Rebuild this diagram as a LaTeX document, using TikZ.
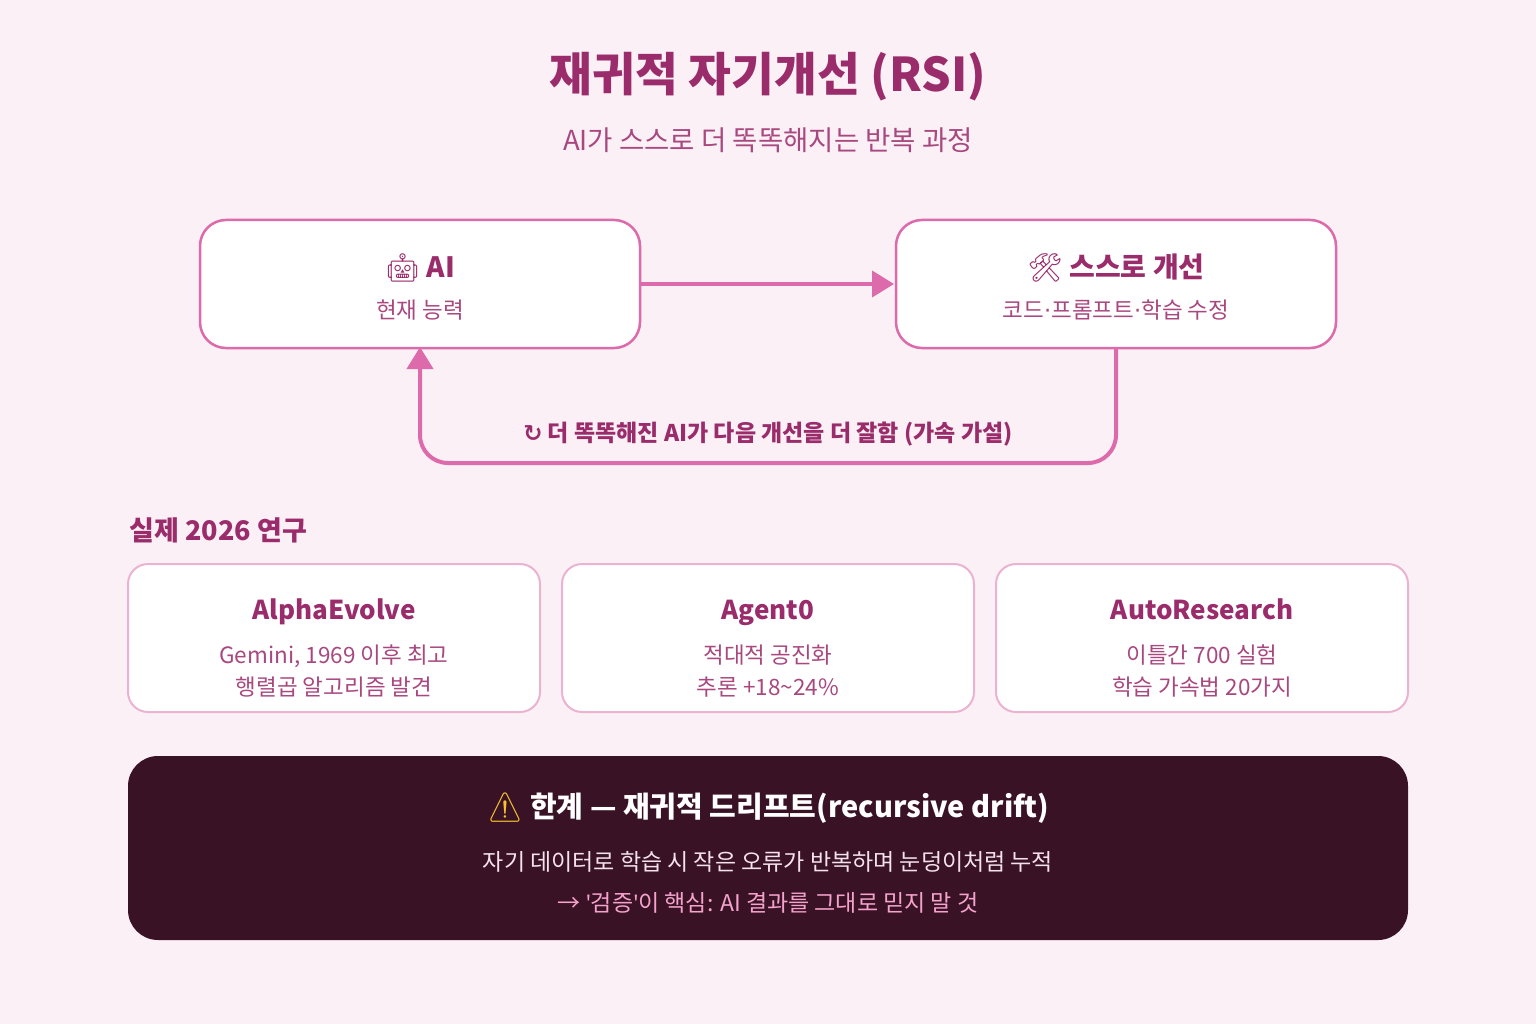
\documentclass[tikz,border=0pt]{standalone}
\usepackage{fontspec}
\setmainfont{Noto Sans CJK KR}
\newfontfamily\emo{Noto Emoji}
\newfontfamily\djv{DejaVu Sans}
\newfontfamily\nsans{Noto Sans}
\usetikzlibrary{arrows.meta}
\definecolor{bg}{HTML}{FBF0F5}
\definecolor{ttl}{HTML}{9B2C6B}
\definecolor{sub}{HTML}{A8487F}
\definecolor{edge}{HTML}{DD6AAA}
\definecolor{ledge}{HTML}{EBB3D1}
\definecolor{dark}{HTML}{3A1226}
\definecolor{lt}{HTML}{F4E2EC}
\definecolor{pk}{HTML}{F5A3CC}
\definecolor{warn}{HTML}{F7C52B}
\newcommand{\md}{{\djv\char"00B7}}
\newcommand{\sq}{{\nsans\char"0027}}
\begin{document}
\begin{tikzpicture}[x=1pt,y=-1pt,
  bigbox/.style={draw=edge,line width=2.5pt,fill=white,rounded corners=26pt},
  smallbox/.style={draw=ledge,line width=2pt,fill=white,rounded corners=20pt},
  hd/.style={font=\bfseries\fontsize{28}{30}\selectfont,text=ttl},
  bd/.style={font=\fontsize{22.5}{25}\selectfont,text=sub},
  conn/.style={draw=edge,line width=4pt,-{Triangle[length=22pt,width=26pt]}}]
\fill[bg] (0,0) rectangle (1536,1024);
\node[font=\bfseries\fontsize{46.5}{50}\selectfont,text=ttl] (t) at (768,77) {재귀적 자기개선 (RSI)};
\node[font=\fontsize{27.5}{30}\selectfont,text=sub] (s) at (768,140) {AI가 스스로 더 똑똑해지는 반복 과정};
\draw[bigbox] (200,220) rectangle (640,348);
\draw[bigbox] (896,220) rectangle (1336,348);
\node[hd] (a1) at (420,268) {{\emo 🤖} AI};
\node[bd] (a2) at (420,310) {현재 능력};
\node[hd] (b1) at (1116,268) {{\emo 🛠} 스스로 개선};
\node[bd] (b2) at (1116,310) {코드\md 프롬프트\md 학습 수정};
\coordinate (ar) at (640,284); \coordinate (bl) at (894,284);
\draw[conn] (ar) -- (bl);
\coordinate (bb) at (1116,349); \coordinate (ab) at (420,347);
\draw[conn,rounded corners=28pt] (bb) -- (1116,463) -- (420,463) -- (ab);
\node[font=\bfseries\fontsize{23}{26}\selectfont,text=ttl] (lp) at (768,434) {{\djv ↻} 더 똑똑해진 AI가 다음 개선을 더 잘함 (가속 가설)};
\node[font=\bfseries\fontsize{27}{30}\selectfont,text=ttl,anchor=west] (r) at (126,530) {실제 2026 연구};
\foreach \x/\t/\l/\m in {128/AlphaEvolve/{Gemini, 1969 이후 최고}/{행렬곱 알고리즘 발견},562/Agent0/{적대적 공진화}/{추론 +18\textasciitilde 24\%},996/AutoResearch/{이틀간 700 실험}/{학습 가속법 20가지}}{
  \draw[smallbox] (\x,564) rectangle (\x+412,712);
  \node[hd,font=\bfseries\fontsize{26}{30}\selectfont,anchor=base] at (\x+206,619) {\t};
  \node[bd,anchor=base] at (\x+206,663) {\l};
  \node[bd,anchor=base] at (\x+206,695) {\m};
}
\fill[dark,rounded corners=30pt] (128,756) rectangle (1408,940);
\node[font=\bfseries\fontsize{29}{32}\selectfont,text=white] (w) at (768,808) {{\emo\color{warn}⚠} 한계 — 재귀적 드리프트(recursive drift)};
\node[font=\fontsize{23}{26}\selectfont,text=lt] (w1) at (768,862) {자기 데이터로 학습 시 작은 오류가 반복하며 눈덩이처럼 누적};
\node[font=\fontsize{23}{26}\selectfont,text=pk] (w2) at (768,903) {→ \sq 검증\sq 이 핵심: AI 결과를 그대로 믿지 말 것};
\end{tikzpicture}
\end{document}
